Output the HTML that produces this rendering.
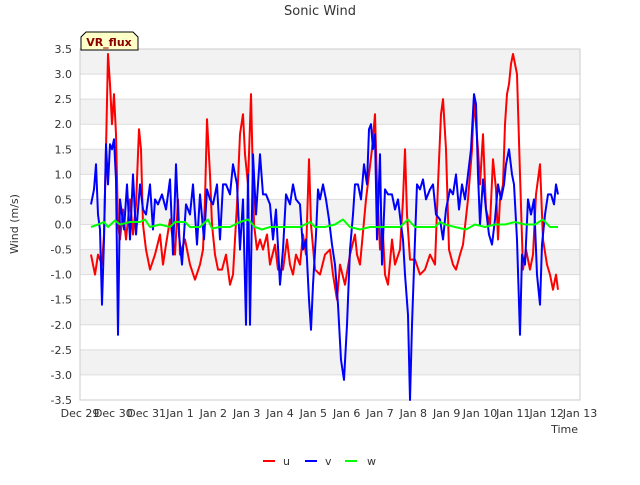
<!DOCTYPE html>
<html><head><meta charset="utf-8"><style>
body{margin:0;background:#fff;font-family:"Liberation Sans",sans-serif}
svg text{font-family:"DejaVu Sans","Liberation Sans",sans-serif}
</style></head><body>
<svg id="c" width="640" height="480" xmlns="http://www.w3.org/2000/svg">
<text x="320" y="15" text-anchor="middle" font-size="13" fill="#333">Sonic Wind</text>
<g id="bands"></g><g id="grid"></g>
<rect x="80" y="49" width="500" height="351" fill="none" stroke="#ccc"/>
<g id="yt"></g><g id="xt"></g><g id="series"></g>
<text x="578" y="433" text-anchor="end" font-size="11" fill="#333">Time</text>
<text transform="translate(18,224) rotate(-90)" text-anchor="middle" font-size="11" fill="#333">Wind (m/s)</text>
<g>
<path d="M81,50 L81,37 L86,32 L133,32 L138,37 L138,50 Z" fill="#ffffc8" stroke="#000"/>
<text x="109" y="46" text-anchor="middle" font-size="11" font-weight="bold" fill="#8b0000">VR_flux</text></g>
<g><line x1="263" y1="461" x2="275" y2="461" stroke="#f00" stroke-width="2"/><text x="283" y="465" font-size="11" fill="#333">u</text></g>
<g><line x1="305" y1="461" x2="317" y2="461" stroke="#00f" stroke-width="2"/><text x="325" y="465" font-size="11" fill="#333">v</text></g>
<g><line x1="345" y1="461" x2="357" y2="461" stroke="#0f0" stroke-width="2"/><text x="367" y="465" font-size="11" fill="#333">w</text></g>
</svg>
<script>
const xTickLabels=["Dec 29","Dec 30","Dec 31","Jan 1","Jan 2","Jan 3","Jan 4","Jan 5","Jan 6","Jan 7","Jan 8","Jan 9","Jan 10","Jan 11","Jan 12","Jan 13"];
const yTicks=[3.5,3,2.5,2,1.5,1,0.5,0,-0.5,-1,-1.5,-2,-2.5,-3,-3.5];
const uT=[.33,.45,.54,.66,.72,.78,.84,.90,.96,1.02,1.08,1.14,1.20,1.29,1.38,1.50,1.59,1.68,1.77,1.83,1.89,1.98,2.10,2.25,2.40,2.49,2.58,2.70,2.85,2.94,3.00,3.15,3.30,3.45,3.60,3.69,3.75,3.81,3.90,3.96,4.05,4.14,4.26,4.38,4.50,4.59,4.71,4.80,4.89,4.95,5.04,5.13,5.22,5.31,5.40,5.49,5.61,5.70,5.85,5.94,6.09,6.21,6.30,6.39,6.48,6.60,6.69,6.78,6.87,6.93,7.05,7.20,7.35,7.50,7.59,7.71,7.80,7.95,8.10,8.25,8.31,8.40,8.58,8.76,8.85,8.91,9.00,9.09,9.15,9.24,9.36,9.45,9.60,9.69,9.75,9.81,9.90,10.05,10.20,10.35,10.50,10.65,10.74,10.83,10.89,10.98,11.07,11.19,11.28,11.40,11.49,11.64,11.76,11.82,11.94,12.00,12.09,12.18,12.30,12.39,12.48,12.54,12.60,12.69,12.75,12.81,12.87,12.93,12.99,13.05,13.11,13.20,13.29,13.38,13.50,13.59,13.68,13.80,13.89,14.01,14.10,14.19,14.28,14.34];
const uV=[-0.6,-1.0,-0.6,-0.8,-0.2,1.5,3.4,2.8,2.0,2.6,1.8,0.0,-0.3,0.3,-0.3,0.5,-0.2,0.4,1.9,1.5,0.0,-0.5,-0.9,-0.6,-0.2,-0.8,-0.4,0.1,-0.6,0.5,-0.6,-0.3,-0.8,-1.1,-0.8,-0.5,0.5,2.1,1.0,0.0,-0.6,-0.9,-0.9,-0.6,-1.2,-1.0,0.4,1.8,2.2,1.4,0.8,2.6,0.0,-0.5,-0.3,-0.5,-0.2,-0.8,-0.4,-0.9,-0.9,-0.3,-0.8,-1.0,-0.6,-0.8,-0.2,-0.6,1.3,0.0,-0.9,-1.0,-0.6,-0.5,-1.0,-1.5,-0.8,-1.2,-0.6,-0.2,-0.6,-0.8,0.5,1.5,2.2,0.8,-0.5,-0.2,-1.0,-1.2,-0.3,-0.8,-0.5,0.5,1.5,0.2,-0.7,-0.7,-1.0,-0.9,-0.6,-0.8,0.8,2.2,2.5,1.5,-0.5,-0.8,-0.9,-0.6,-0.4,0.5,1.5,2.5,1.5,0.8,1.8,0.3,0.0,1.3,0.7,-0.3,0.5,0.8,2.0,2.6,2.8,3.2,3.4,3.2,3.0,1.0,-0.9,-0.5,-0.9,-0.6,0.6,1.2,-0.3,-0.8,-1.0,-1.3,-1.0,-1.3];
const vT=[.33,.42,.48,.54,.60,.66,.72,.78,.84,.90,.96,1.02,1.08,1.14,1.20,1.32,1.41,1.50,1.59,1.68,1.80,1.89,1.98,2.10,2.19,2.25,2.34,2.46,2.58,2.70,2.79,2.88,2.97,3.06,3.18,3.30,3.39,3.51,3.60,3.72,3.81,3.90,3.99,4.11,4.20,4.29,4.38,4.50,4.59,4.71,4.80,4.89,4.98,5.04,5.10,5.19,5.28,5.40,5.49,5.58,5.70,5.79,5.88,6.00,6.09,6.18,6.30,6.39,6.48,6.60,6.69,6.78,6.87,6.93,6.99,7.08,7.14,7.20,7.29,7.38,7.47,7.56,7.65,7.74,7.83,7.92,8.01,8.10,8.19,8.25,8.34,8.43,8.52,8.61,8.67,8.73,8.79,8.85,8.91,9.00,9.06,9.15,9.24,9.36,9.45,9.54,9.63,9.69,9.75,9.84,9.90,9.96,10.05,10.11,10.20,10.29,10.38,10.50,10.59,10.68,10.80,10.89,10.98,11.10,11.19,11.28,11.37,11.46,11.55,11.64,11.73,11.82,11.88,11.94,12.00,12.09,12.18,12.27,12.36,12.45,12.54,12.63,12.72,12.78,12.87,12.96,13.02,13.11,13.20,13.26,13.35,13.44,13.53,13.62,13.71,13.80,13.86,13.95,14.04,14.13,14.22,14.28,14.34];
const vV=[0.4,0.7,1.2,0.2,-0.1,-1.6,-0.3,1.6,0.8,1.6,1.5,1.7,0.9,-2.2,0.5,-0.1,0.8,-0.3,1.0,-0.2,0.8,0.3,0.2,0.8,-0.1,0.5,0.4,0.6,0.3,0.9,-0.6,1.2,-0.2,-0.8,0.4,0.2,0.8,-0.4,0.6,-0.3,0.7,0.5,0.4,0.8,-0.3,0.8,0.8,0.6,1.2,0.8,-0.5,0.5,-2.0,1.0,-2.0,1.4,0.2,1.4,0.6,0.6,0.4,-0.3,0.3,-1.2,-0.5,0.6,0.4,0.8,0.5,0.4,-0.5,-0.3,-1.5,-2.1,-1.2,-0.2,0.7,0.5,0.8,0.5,0.1,-0.4,-0.8,-1.6,-2.7,-3.1,-2.0,-0.5,0.2,0.8,0.8,0.5,1.2,0.8,1.9,2.0,1.5,1.8,-0.3,1.4,-0.8,0.7,0.6,0.6,0.3,0.5,0.0,-0.3,-1.0,-1.8,-3.5,-2.0,-0.3,0.8,0.7,0.9,0.5,0.7,0.8,0.2,0.1,-0.3,0.3,0.7,0.6,1.0,0.3,0.8,0.5,1.0,1.5,2.6,2.4,1.0,0.0,0.9,0.3,-0.2,-0.4,0.1,0.8,0.5,0.8,1.2,1.5,1.0,0.8,-0.3,-2.2,-0.6,-0.8,0.5,0.2,0.5,-1.0,-1.6,-0.4,0.2,0.6,0.6,0.4,0.8,0.6];
const wT=[.33,.54,.72,.84,1.05,1.2,1.5,1.8,1.95,2.1,2.4,2.7,2.85,3.15,3.3,3.6,3.84,3.96,4.2,4.5,4.8,5.04,5.25,5.46,5.7,6.0,6.3,6.6,6.9,7.05,7.35,7.65,7.89,8.1,8.4,8.7,9.0,9.36,9.6,9.84,10.05,10.35,10.65,10.8,10.95,11.25,11.58,11.85,12.15,12.45,12.75,13.05,13.35,13.65,13.89,14.1,14.34];
const wV=[-0.05,0.0,0.05,-0.05,0.08,0.0,0.05,0.05,0.1,-0.05,0.0,-0.05,0.05,0.05,-0.05,-0.05,0.1,-0.08,-0.05,-0.05,0.05,0.1,-0.05,-0.1,-0.05,-0.05,-0.05,-0.05,0.05,-0.05,-0.05,0.0,0.1,-0.05,-0.1,-0.05,-0.05,-0.05,-0.05,0.1,-0.05,-0.05,-0.05,0.05,0.0,-0.05,-0.1,0.0,-0.05,0.0,0.0,0.05,0.0,0.0,0.1,-0.05,-0.05];
const NS='http://www.w3.org/2000/svg';
const X=d=>80+d*500/15, Y=v=>224.5-v*(351/7);
function mk(tag,attrs,parent){const e=document.createElementNS(NS,tag);for(const k in attrs)e.setAttribute(k,attrs[k]);document.getElementById(parent).appendChild(e);return e;}
for(let i=0;i<yTicks.length-1;i+=2){
  const b=mk('rect',{x:80,y:Y(yTicks[i]),width:500,height:Y(yTicks[i+1])-Y(yTicks[i]),fill:'#f2f2f2'},'bands');
  
  
}
yTicks.forEach(v=>{
  const l=mk('line',{x1:80,x2:580,y1:Y(v),y2:Y(v),stroke:'#ddd'},'grid');
  
  
  const t=mk('text',{x:72,y:Y(v)+4,'text-anchor':'end','font-size':11,fill:'#333'},'yt');
  t.textContent=v.toFixed(1);
  
  
});
xTickLabels.forEach((s,i)=>{
  const t=mk('text',{x:X(i),y:417,'text-anchor':'middle','font-size':11,fill:'#333'},'xt');
  t.textContent=s;
  
  
});
[[uT,uV,'#f00','u-series'],[vT,vV,'#00f','v-series'],[wT,wV,'#0f0','w-series']].forEach(([T,V,c,n])=>{
  const p=mk('path',{d:T.map((t,i)=>(i?'L':'M')+X(t).toFixed(1)+','+Y(V[i]).toFixed(1)).join(''),fill:'none',stroke:c,'stroke-width':2,'stroke-linejoin':'round'},'series');
  
  
});
</script>
</body></html>
